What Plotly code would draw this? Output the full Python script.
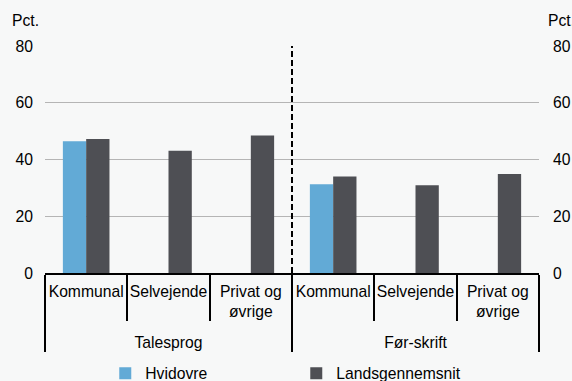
import plotly.graph_objects as go

groups = ["Talesprog", "Talesprog", "Talesprog", "Før-skrift", "Før-skrift", "Før-skrift"]
SP = "<span style='font-size:46px'> </span>"
categories = ["Kommunal", "Selvejende", "Privat og<br>" + SP + "øvrige" + SP,
              "Kommunal", "Selvejende", "Privat og<br>" + SP + "øvrige" + SP]
hvidovre = [46.4, None, None, 31.3, None, None]
landsgennemsnit = [47.2, 43.1, 48.5, 34.0, 30.9, 34.9]
y_ticks = [0, 20, 40, 60, 80]

FONT = "Liberation Sans, Arial, sans-serif"
FS = 15.7
BG = "#f7f8f8"

fig = go.Figure()
fig.add_trace(go.Bar(x=[groups, categories], y=hvidovre, name="Hvidovre",
                     marker=dict(color="#62aad6", line=dict(width=0))))
fig.add_trace(go.Bar(x=[groups, categories], y=landsgennemsnit, name="Landsgennemsnit",
                     marker=dict(color="#4e4f54", line=dict(width=0))))
# invisible trace for right axis
fig.add_trace(go.Scatter(x=[groups, categories], y=landsgennemsnit, yaxis="y2",
                         mode="markers", marker=dict(opacity=0), showlegend=False,
                         hoverinfo="skip"))

fig.update_layout(
    width=572, height=381,
    paper_bgcolor=BG, plot_bgcolor=BG,
    margin=dict(l=45, r=33, t=46, b=108, pad=0, autoexpand=False),
    font=dict(family=FONT, size=FS, color="#000000"),
    barmode="group", bargap=0.434, bargroupgap=0,
    showlegend=True,
    legend=dict(orientation="h", x=0.122, xanchor="left", y=-0.443, yanchor="middle",
                entrywidth=146, entrywidthmode="pixels", bgcolor="rgba(0,0,0,0)",
                font=dict(size=FS)),
    xaxis=dict(type="multicategory", showline=True, linecolor="#000000", linewidth=2,
               ticks="outside", tickson="boundaries", ticklen=46, tickwidth=2, tickcolor="#000000",
               showdividers=True, dividercolor="#000000", dividerwidth=2,
               tickangle=0, automargin=False, ticklabelstandoff=3,
               tickfont=dict(size=FS), showgrid=False),
    yaxis=dict(range=[0, 80], tickvals=y_ticks, showgrid=True, gridcolor="#b5b5b5", gridwidth=1,
               zeroline=False, ticks="", ticklabelstandoff=11, showline=False, automargin=False,
               tickfont=dict(size=FS)),
    yaxis2=dict(range=[0, 80], tickvals=y_ticks, overlaying="y", side="right", showgrid=False,
                zeroline=False, ticks="", ticklabelstandoff=13, showline=False, automargin=False,
                tickfont=dict(size=FS)),
    annotations=[
        dict(text="Pct.", xref="paper", yref="paper", x=-0.07, y=1.0, yshift=26,
             xanchor="left", yanchor="middle", showarrow=False, font=dict(size=FS)),
        dict(text="Pct.", xref="paper", yref="paper", x=1.0, xshift=7, y=1.0, yshift=26,
             xanchor="left", yanchor="middle", showarrow=False, font=dict(size=FS)),
    ],
    shapes=[
        dict(type="line", xref="x", yref="y", x0=2.5, x1=2.5, y0=0, y1=80,
             line=dict(color="#000000", width=2, dash="6px,3px")),
    ],
)

fig.write_html("out.html", config={"displayModeBar": False},
               post_script="document.body.style.margin='0';document.body.style.overflow='hidden';")
